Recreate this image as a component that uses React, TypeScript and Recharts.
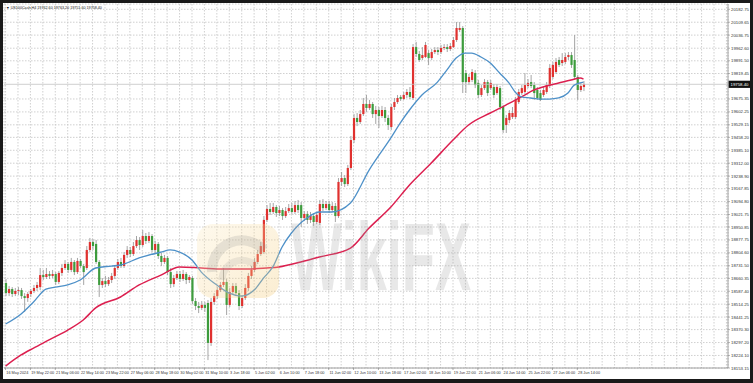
import React from 'react';
import { ComposedChart, Bar, Line, XAxis, YAxis, CartesianGrid, ReferenceLine } from 'recharts';

const opens = [
18634,18577,18600,18572,18589,18594,18560,18549,18572,18589,
18606,18611,18679,18668,18685,18674,18685,18640,18691,18719,
18742,18708,18753,18696,18759,18730,18719,18821,18866,18855,
18753,18623,18645,18628,18651,18674,18719,18753,18730,18793,
18821,18798,18843,18877,18849,18900,18872,18900,18821,18855,
18787,18753,18776,18696,18628,18662,18685,18657,18685,18651,
18662,18532,18504,18493,18510,18521,18295,18527,18560,18594,
18623,18640,18510,18583,18617,18577,18504,18549,18606,18674,
18708,18753,18798,18809,18991,19053,19036,19064,19030,19047,
19013,19041,19058,19036,19075,19075,19002,19025,18991,19013,
18979,18974,19081,19058,19081,19047,19070,19013,19206,19228,
19194,19285,19443,19568,19545,19590,19647,19624,19647,19590,
19613,19579,19613,19568,19517,19630,19658,19687,19675,19698,
19715,19681,19969,19930,19907,19913,19935,19907,19941,19952,
19941,19964,19969,19958,19969,20009,20066,20077,19822,19771,
19783,19822,19766,19698,19737,19771,19737,19743,19709,19737,
19630,19528,19556,19573,19573,19658,19709,19715,19749,19771,
19754,19726,19709,19698,19715,19754,19800,19828,19896,19879,
19885,19913,19924,19896,19800,19726,19743];

const highs = [
18657,18617,18611,18606,18611,18606,18577,18583,18600,18623,
18640,18719,18708,18719,18702,18708,18696,18702,18742,18764,
18753,18776,18764,18776,18770,18742,18843,18889,18883,18877,
18764,18662,18674,18668,18691,18736,18770,18776,18809,18843,
18838,18866,18900,18894,18934,18917,18923,18911,18872,18866,
18804,18793,18787,18719,18679,18702,18702,18708,18696,18679,
18674,18549,18527,18532,18527,18538,18549,18577,18611,18640,
18719,18657,18606,18634,18634,18594,18566,18628,18691,18730,
18776,18821,18866,19013,19075,19087,19087,19075,19070,19058,
19064,19081,19087,19098,19104,19092,19041,19041,19036,19030,
19036,19104,19109,19098,19098,19092,19087,19228,19262,19245,
19302,19466,19590,19596,19613,19681,19698,19670,19658,19636,
19630,19636,19630,19585,19647,19681,19698,19698,19715,19732,
19743,19986,19998,19947,19969,19998,19952,19958,19969,19969,
19981,19986,19986,19992,20026,20111,20111,20088,19839,19817,
19845,19839,19783,19754,19788,19783,19783,19760,19760,19749,
19641,19585,19613,19630,19687,19732,19754,19822,19788,19811,
19771,19743,19726,19743,19771,19873,19885,19907,19913,19935,
19935,19941,19941,20037,19811,19766,19777];

const lows = [
18560,18560,18555,18560,18566,18544,18470,18527,18555,18577,
18589,18594,18651,18657,18657,18662,18623,18628,18674,18708,
18691,18696,18679,18685,18719,18623,18708,18809,18821,18742,
18555,18606,18611,18617,18634,18657,18708,18719,18719,18776,
18781,18787,18832,18821,18838,18855,18860,18809,18804,18770,
18730,18742,18679,18606,18611,18651,18640,18645,18628,18634,
18515,18481,18464,18481,18470,18198,18278,18510,18544,18583,
18611,18453,18498,18566,18560,18481,18493,18538,18589,18657,
18696,18742,18787,18798,18979,19019,19025,19008,19013,18991,
19002,19030,19025,19025,19030,18951,18985,18968,18974,18957,
18968,18962,19041,19047,19030,19036,18979,19002,19183,19177,
19183,19273,19426,19522,19534,19579,19602,19613,19568,19534,
19511,19568,19545,19500,19500,19613,19647,19664,19670,19681,
19675,19670,19913,19885,19896,19907,19868,19896,19930,19924,
19930,19952,19941,19947,19964,19998,20054,19709,19709,19754,
19771,19737,19681,19687,19726,19692,19726,19681,19698,19613,
19483,19483,19539,19562,19562,19647,19698,19704,19737,19737,
19670,19670,19664,19687,19704,19737,19788,19817,19856,19862,
19873,19896,19851,19788,19670,19715,19720];

const closes = [
18577,18600,18572,18589,18594,18560,18549,18572,18589,18606,
18623,18679,18668,18685,18674,18685,18640,18691,18719,18742,
18708,18753,18696,18759,18730,18696,18821,18866,18843,18753,
18623,18645,18628,18651,18674,18719,18753,18730,18793,18821,
18798,18843,18877,18849,18900,18872,18900,18821,18855,18787,
18753,18776,18696,18628,18662,18685,18657,18685,18651,18668,
18532,18504,18493,18510,18493,18295,18527,18560,18594,18623,
18640,18510,18583,18617,18577,18504,18549,18606,18674,18708,
18753,18798,18843,18991,19053,19036,19064,19030,19047,19013,
19041,19058,19036,19075,19047,19002,19025,18991,19013,18979,
19019,19081,19058,19081,19047,19070,19013,19206,19228,19194,
19285,19443,19568,19545,19590,19647,19624,19647,19590,19613,
19579,19613,19568,19528,19630,19658,19681,19675,19698,19715,
19687,19969,19930,19896,19924,19981,19907,19941,19952,19941,
19964,19969,19958,19975,20009,20077,20077,19771,19771,19800,
19828,19754,19698,19737,19771,19709,19766,19698,19743,19630,
19500,19568,19596,19596,19670,19715,19737,19754,19766,19749,
19709,19681,19670,19726,19754,19851,19868,19885,19868,19896,
19913,19924,19868,19800,19726,19749,19758.4];

// [bar index, value]
const maFast: [number, number][] = [
[0,18402],[5,18459],[9,18527],[13,18600],[16,18611],[20,18623],[24,18651],[29,18719],[34,18730],[37,18736],
[43,18776],[50,18809],[53,18821],[56,18809],[60,18764],[63,18696],[68,18623],[72,18577],[76,18560],[80,18594],
[83,18662],[86,18725],[89,18838],[92,18917],[97,19002],[101,19036],[105,19036],[111,19087],[117,19273],[124,19455],
[127,19539],[130,19613],[134,19698],[139,19771],[142,19839],[145,19907],[148,19935],[150,19935],[153,19913],[156,19879],
[159,19822],[162,19766],[164,19715],[166,19687],[169,19681],[172,19675],[175,19675],[178,19681],[181,19709],[183,19754],[186,19771]];

const maSlow: [number, number][] = [
[0,18164],[5,18227],[9,18266],[14,18312],[20,18368],[25,18425],[29,18493],[37,18555],[43,18623],[50,18679],
[56,18725],[63,18719],[70,18713],[78,18713],[84,18719],[88,18725],[95,18753],[101,18781],[111,18832],[117,18945],
[124,19064],[130,19189],[137,19313],[144,19443],[149,19528],[156,19596],[161,19641],[166,19687],[170,19726],[174,19749],
[178,19766],[182,19783],[185,19794],[186,19788]];

const timeLabels = ["16 May 2024","19 May 22:00","21 May 06:00","22 May 14:00","23 May 22:00","27 May 06:00",
"28 May 18:00","30 May 02:00","31 May 10:00","3 Jun 18:00","5 Jun 02:00","6 Jun 10:00","7 Jun 18:00",
"11 Jun 02:00","12 Jun 10:00","13 Jun 18:00","17 Jun 02:00","18 Jun 10:00","19 Jun 22:00","21 Jun 06:00",
"24 Jun 14:00","25 Jun 22:00","27 Jun 06:00","28 Jun 14:00"];

const priceTicks = [20182.75,20109.65,20036.75,19962.60,19891.50,19819.45,19675.35,19602.25,19529.15,19458.20,
19385.10,19312.00,19238.90,19167.85,19094.80,19021.75,18950.85,18877.75,18804.60,18731.50,18660.35,18587.40,
18514.25,18441.25,18370.30,18297.20,18224.10,18153.15];

const lastPrice = 19758.4;
const headerText = "US100Cash,H4  19762.60 19763.20 19751.60 19758.40";

const SLOTS = 233;
const LABEL_STEP = 8;
const GRID_STEP = 4;
const FONT = "'Liberation Sans', Arial, sans-serif";
const UP = '#e0312f';
const DOWN = '#3d9c3d';
const GRID = '#c4c4c4';

const rows: any[] = Array.from({ length: SLOTS }, (_, i) => {
  const r: any = { i };
  if (i < closes.length) {
    r.open = opens[i]; r.high = highs[i]; r.low = lows[i]; r.close = closes[i];
    r.range = [lows[i], highs[i]];
  }
  return r;
});
maFast.forEach(([i, v]) => { rows[i].fast = v; });
maSlow.forEach(([i, v]) => { rows[i].slow = v; });

// x-axis ticks every GRID_STEP bars (grid lines); labels only every LABEL_STEP bars
const tickIdx = Array.from({ length: SLOTS }, (_, k) => k).filter(v => v % GRID_STEP === 0);

const Candle = (props: any) => {
  const { x, y, width, height, payload } = props;
  if (!payload || payload.open == null || x == null) return null;
  const top = Math.min(y, y + height);
  const h = Math.abs(height);
  const { open, close, high, low } = payload;
  const span = high - low || 1;
  const toY = (v: number) => top + ((high - v) / span) * h;
  const cx = x + width / 2;
  const yo = toY(open);
  const yc = toY(close);
  const up = close >= open;
  const bt = Math.min(yo, yc);
  const bh = Math.max(Math.abs(yc - yo), 0.9);
  return (
    <g>
      <line x1={cx} x2={cx} y1={top} y2={top + h} stroke="#8e8e8e" strokeWidth={0.8} />
      <rect x={cx - 1.1} y={bt} width={2.2} height={bh} fill={up ? UP : DOWN} />
    </g>
  );
};

const XTick = (props: any) => {
  const { x, y, payload } = props;
  if (payload.value % LABEL_STEP !== 0) return null;
  const label = timeLabels[payload.value / LABEL_STEP];
  if (!label) return null;
  return (
    <g>
      <line x1={x} x2={x} y1={y} y2={y + 2} stroke="#777" strokeWidth={0.6} />
      <text x={x + 0.8} y={y + 6.4} fontSize={3.8} fontFamily={FONT} fill="#333" textAnchor="start">{label}</text>
    </g>
  );
};

const YTick = (props: any) => {
  const { x, y, payload } = props;
  return (
    <text x={x} y={y + 1.5} fontSize={4.3} fontFamily={FONT} fill="#333" textAnchor="start">
      {Number(payload.value).toFixed(2)}
    </text>
  );
};

const PriceTag = (props: any) => {
  const vb = props.viewBox || {};
  const x0 = (vb.x || 0) + (vb.width || 0) + 0.5;
  const yy = vb.y || 0;
  return (
    <g>
      <rect x={x0} y={yy - 3.6} width={22} height={7.2} fill="#111" />
      <text x={x0 + 2} y={yy + 1.6} fontSize={4.3} fontFamily={FONT} fill="#fff" textAnchor="start">
        {lastPrice.toFixed(2)}
      </text>
    </g>
  );
};

export default function App() {
  return (
    <div style={{ position: 'absolute', left: 0, top: 0, width: 753, height: 383, background: '#fff', overflow: 'hidden' }}>
      <ComposedChart width={753} height={383} data={rows} margin={{ top: 4, right: 3, bottom: 4, left: 4 }}>
        <CartesianGrid stroke={GRID} strokeDasharray="1.5 1.5" strokeWidth={0.8} />
        <XAxis dataKey="i" type="category" ticks={tickIdx} interval={0} tick={<XTick />} tickLine={false}
          tickSize={0} tickMargin={0} height={11} axisLine={{ stroke: '#8a8a8a', strokeWidth: 0.8 }} />
        <YAxis orientation="right" type="number" domain={[18153.15, 20212.8]} allowDataOverflow ticks={priceTicks}
          interval={0} width={22} tick={<YTick />} tickSize={2} tickMargin={1}
          tickLine={{ stroke: '#8a8a8a', strokeWidth: 0.6 }} axisLine={{ stroke: '#8a8a8a', strokeWidth: 0.8 }} />
        <ReferenceLine y={lastPrice} stroke="#c4c4c4" strokeWidth={0.8} label={<PriceTag />} />
        <Bar dataKey="range" barSize={2} shape={<Candle />} isAnimationActive={false} />
        <Line dataKey="slow" type="monotone" stroke="#dc1f4f" strokeWidth={1.5} dot={false} connectNulls isAnimationActive={false} />
        <Line dataKey="fast" type="monotone" stroke="#4d90c8" strokeWidth={1.3} dot={false} connectNulls isAnimationActive={false} />
      </ComposedChart>
      <svg width={753} height={383} style={{ position: 'absolute', left: 0, top: 0, pointerEvents: 'none' }}>
        <defs>
          <linearGradient id="wmg" x1="0" y1="0" x2="1" y2="1">
            <stop offset="0" stopColor="#fcebc2" />
            <stop offset="1" stopColor="#f2c56a" />
          </linearGradient>
        </defs>
        <rect x={197} y={224} width={82} height={74} rx={16} fill="url(#wmg)" opacity={0.3} />
        <path d="M212 272 A 30 30 0 0 1 264 250" stroke="#8d8d8d" strokeWidth={10} fill="none" opacity={0.2} />
        <path d="M222 280 A 20 20 0 0 1 256 266" stroke="#8d8d8d" strokeWidth={7} fill="none" opacity={0.16} />
        <text x={291} y={290} fontSize={96} fontWeight={700} fontFamily={FONT} fill="#9a9a9a" opacity={0.22}
          textLength={180} lengthAdjust="spacingAndGlyphs">WikiFX</text>
        <text x={6} y={8.8} fontSize={3.7} fontFamily={FONT} fill="#222">{'\u25BC ' + headerText}</text>
      </svg>
      <div style={{ position: 'absolute', left: 0, top: 0, width: 753, height: 383, boxSizing: 'border-box',
        borderStyle: 'solid', borderColor: '#1a1a1a', borderWidth: '3px 3px 4px 3px', pointerEvents: 'none' }} />
    </div>
  );
}
